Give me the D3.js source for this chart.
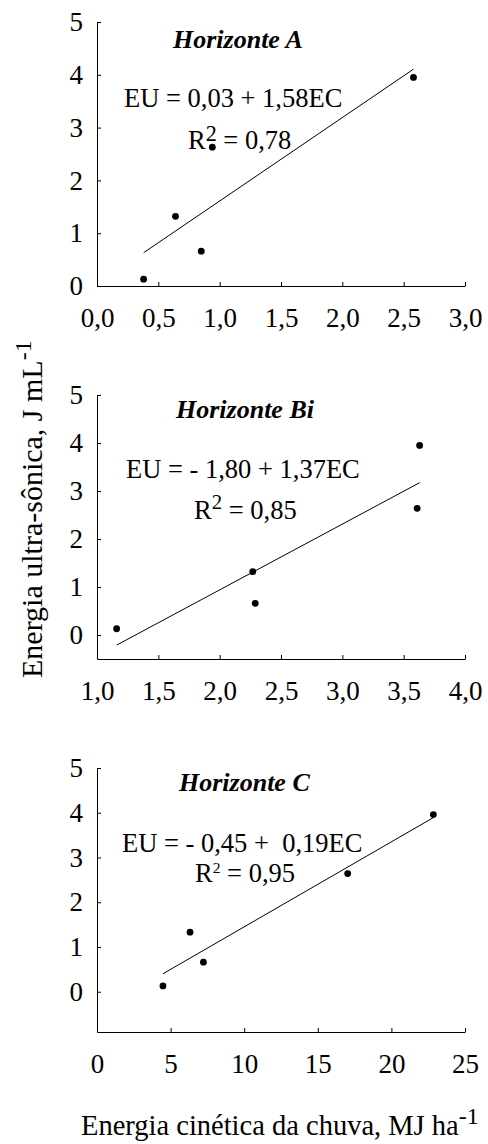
<!DOCTYPE html>
<html>
<head>
<meta charset="utf-8">
<script src="https://cdn.jsdelivr.net/npm/d3@7"></script>
<style>
  body { margin: 0; background: #fff; }
</style>
</head>
<body>
<div id="chart"></div>
<script>
// ultrasonic energy (EU), same soil samples in every panel
var euA = [0.13, 1.32, 0.66, 2.63, 3.95];
var euB = [0.13, 1.32, 0.66, 2.64, 3.95];
var euC = [0.13, 1.33, 0.66, 2.64, 3.96];

// rainfall kinetic energy (EC) per horizon
var ecA = [0.38, 0.64, 0.85, 0.94, 2.58];
var ecB = [1.16, 2.27, 2.29, 3.61, 3.63];
var ecC = [4.48, 6.32, 7.23, 17.03, 22.85];

// fitted lines: [intercept, slope]
var fitA = [0.03, 1.58];
var fitB = [-1.80, 1.37];
var fitC = [-0.45, 0.19];

var titles = ["Horizonte A", "Horizonte Bi", "Horizonte C"];
var equations = ["EU = 0,03 + 1,58EC", "EU = - 1,80 + 1,37EC", "EU = - 0,45 +  0,19EC"];
var r2Labels = [" = 0,78", " = 0,85", " = 0,95"];

var xTicksA = [0, 0.5, 1.0, 1.5, 2.0, 2.5, 3.0];
var xTicksB = [1.0, 1.5, 2.0, 2.5, 3.0, 3.5, 4.0];
var xTicksC = [0, 5, 10, 15, 20, 25];
var yTicks = [0, 1, 2, 3, 4, 5];

var W = 488, H = 1144;
var serif = '"Liberation Serif", "Times New Roman", serif';

var svg = d3.select("#chart")
  .append("svg")
    .attr("width", W)
    .attr("height", H);

var comma1 = function(d) { return d3.format(".1f")(d).replace(".", ","); };

var panels = [
  { ec: ecA, eu: euA, fit: fitA, xTicks: xTicksA, xDom: [0, 3], yDom: [0, 5], fmt: comma1,
    top: 22, bottom: 286, titleX: 173, titleY: 48,
    eqX: 124, eqY: 107, r2X: 188, r2Y: 149, supDy: -0.3, supSize: 0.85 },
  { ec: ecB, eu: euB, fit: fitB, xTicks: xTicksB, xDom: [1, 4], yDom: [-0.5, 5], fmt: comma1,
    top: 395, bottom: 659, titleX: 176, titleY: 418,
    eqX: 126, eqY: 478, r2X: 194, r2Y: 519, supDy: -0.38, supSize: 0.8 },
  { ec: ecC, eu: euC, fit: fitC, xTicks: xTicksC, xDom: [0, 25], yDom: [-0.9, 5], fmt: d3.format("d"),
    top: 768, bottom: 1032, titleX: 179, titleY: 791,
    eqX: 122, eqY: 852, r2X: 195, r2Y: 882, supDy: -0.35, supSize: 0.6 }
];

panels.forEach(function(p, i) {
  var g = svg.append("g");

  var x = d3.scaleLinear().domain(p.xDom).range([97, 465]);
  var y = d3.scaleLinear().domain(p.yDom).range([p.bottom, p.top]);

  // X axis
  g.append("g")
    .attr("transform", "translate(0," + p.bottom + ")")
    .call(d3.axisBottom(x).tickValues(p.xTicks).tickFormat(p.fmt)
      .tickSizeInner(-4).tickSizeOuter(0).tickPadding(22));

  // Y axis
  g.append("g")
    .attr("transform", "translate(97,0)")
    .call(d3.axisLeft(y).tickValues(yTicks).tickFormat(d3.format("d"))
      .tickSizeInner(-4).tickSizeOuter(0).tickPadding(14));

  g.selectAll(".domain, .tick line").attr("stroke", "#000").attr("stroke-width", 1);
  g.selectAll(".tick text")
    .attr("fill", "#000")
    .style("font-family", serif)
    .style("font-size", "27px");

  // regression line
  var ext = d3.extent(p.ec);
  g.append("line")
    .attr("x1", x(ext[0]))
    .attr("y1", y(p.fit[0] + p.fit[1] * ext[0]))
    .attr("x2", x(ext[1]))
    .attr("y2", y(p.fit[0] + p.fit[1] * ext[1]))
    .attr("stroke", "#000")
    .attr("stroke-width", 1);

  // points
  g.selectAll("circle")
    .data(p.ec)
    .enter()
    .append("circle")
      .attr("cx", function(d) { return x(d); })
      .attr("cy", function(d, j) { return y(p.eu[j]); })
      .attr("r", 3.4)
      .attr("fill", "#000");

  g.append("text")
    .attr("x", p.titleX)
    .attr("y", p.titleY)
    .style("font-family", serif)
    .style("font-size", "26px")
    .style("font-weight", "bold")
    .style("font-style", "italic")
    .text(titles[i]);

  g.append("text")
    .attr("x", p.eqX)
    .attr("y", p.eqY)
    .style("font-family", serif)
    .style("font-size", "26.5px")
    .style("white-space", "pre")
    .text(equations[i]);

  var r2 = g.append("text")
    .attr("x", p.r2X)
    .attr("y", p.r2Y)
    .style("font-family", serif)
    .style("font-size", "26.5px");
  r2.append("tspan").text("R");
  r2.append("tspan")
    .attr("dy", (p.supDy * 26) + "px")
    .style("font-size", (p.supSize * 26) + "px")
    .text("2");
  r2.append("tspan")
    .attr("dy", (-p.supDy * 26) + "px")
    .text(r2Labels[i]);
});

// axis titles
var xt = svg.append("text")
  .attr("x", 81)
  .attr("y", 1135)
  .style("font-family", serif)
  .style("font-size", "28.5px");
xt.append("tspan").text("Energia cinética da chuva, MJ ha");
xt.append("tspan").attr("dy", "-11px").style("font-size", "24px").text("-1");

var yt = svg.append("text")
  .attr("transform", "translate(42,678) rotate(-90)")
  .style("font-family", serif)
  .style("font-size", "30px");
yt.append("tspan").text("Energia ultra-sônica, J mL");
yt.append("tspan").attr("dy", "-11px").style("font-size", "24px").text("-1");
</script>
</body>
</html>
